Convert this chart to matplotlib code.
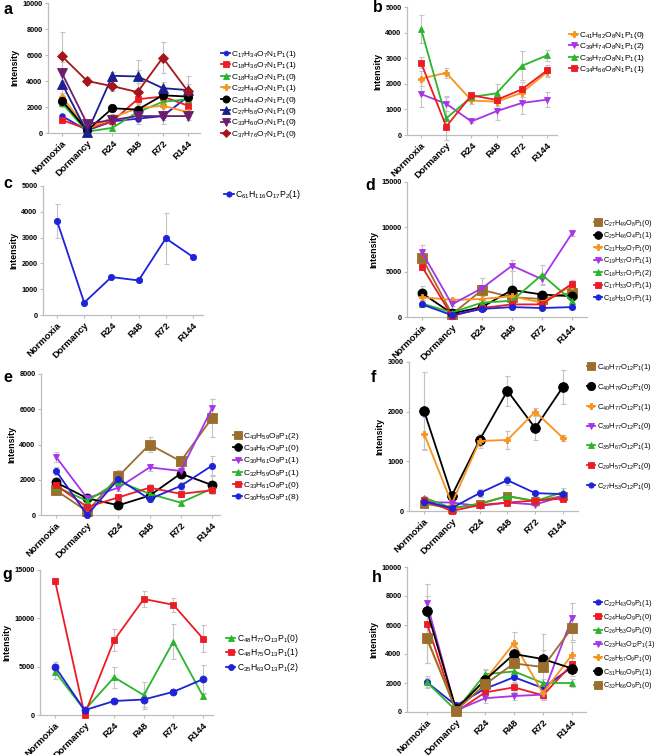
import matplotlib
matplotlib.use("Agg")
import matplotlib.pyplot as plt
import numpy as np

plt.rcParams['font.family'] = ['Liberation Sans', 'DejaVu Sans']
plt.rcParams['mathtext.fontset'] = 'custom'
plt.rcParams['mathtext.rm'] = 'Liberation Sans'
plt.rcParams['mathtext.it'] = 'Liberation Sans:italic'
plt.rcParams['mathtext.bf'] = 'Liberation Sans:bold'
plt.rcParams['mathtext.default'] = 'regular'

categories = ["Normoxia", "Dormancy", "R24", "R48", "R72", "R144"]

# ---------------- panel a ----------------
a_labels = [r"C$_{17}$H$_{34}$O$_7$N$_1$P$_1$(1)", r"C$_{18}$H$_{36}$O$_7$N$_1$P$_1$(1)",
            r"C$_{18}$H$_{38}$O$_7$N$_1$P$_1$(0)", r"C$_{22}$H$_{44}$O$_7$N$_1$P$_1$(1)",
            r"C$_{21}$H$_{44}$O$_7$N$_1$P$_1$(0)", r"C$_{27}$H$_{56}$O$_7$N$_1$P$_1$(0)",
            r"C$_{33}$H$_{60}$O$_7$N$_1$P$_1$(0)", r"C$_{37}$H$_{76}$O$_7$N$_1$P$_1$(0)"]
a_values = [[1300, 200, 900, 1100, 1300, 2800],
            [1000, 300, 900, 2600, 2800, 2100],
            [2300, 100, 400, 1600, 2400, 2600],
            [2800, 300, 1200, 1900, 2100, 1600],
            [2500, 200, 1900, 1800, 2900, 2800],
            [3800, 50, 4400, 4350, 3450, 3300],
            [4600, 700, 1000, 1300, 1300, 1300],
            [5900, 4000, 3600, 3150, 5800, 3200]]
a_errors = [[200, 100, 200, 200, 300, 300],
            [200, 100, 200, 300, 400, 300],
            [300, 100, 200, 300, 400, 300],
            [300, 100, 300, 300, 400, 300],
            [400, 100, 200, 300, 500, 400],
            [700, 100, 300, 500, 500, 500],
            [900, 200, 300, 300, 600, 300],
            [1900, 300, 400, 2450, 1200, 1200]]

# ---------------- panel b ----------------
b_labels = [r"C$_{41}$H$_{82}$O$_8$N$_1$P$_1$(0)", r"C$_{39}$H$_{74}$O$_8$N$_1$P$_1$(2)",
            r"C$_{36}$H$_{70}$O$_8$N$_1$P$_1$(1)", r"C$_{34}$H$_{66}$O$_8$N$_1$P$_1$(1)"]
b_values = [[2200, 2430, 1350, 1300, 1650, 2450],
            [1600, 1220, 530, 930, 1250, 1380],
            [4150, 650, 1480, 1630, 2700, 3110],
            [2830, 330, 1550, 1370, 1780, 2520]]
b_errors = [[300, 200, 150, 150, 150, 200],
            [520, 300, 80, 330, 430, 300],
            [550, 850, 100, 350, 570, 220],
            [200, 100, 100, 100, 300, 200]]

# ---------------- panel c ----------------
c_labels = [r"C$_{61}$H$_{116}$O$_{17}$P$_2$(1)"]
c_values = [[3650, 480, 1470, 1340, 2970, 2250]]
c_errors = [[650, 50, 50, 50, 975, 50]]

# ---------------- panel d ----------------
d_labels = [r"C$_{27}$H$_{49}$O$_8$P$_1$(0)", r"C$_{25}$H$_{46}$O$_4$P$_1$(1)",
            r"C$_{21}$H$_{39}$O$_7$P$_1$(0)", r"C$_{19}$H$_{37}$O$_7$P$_1$(1)",
            r"C$_{18}$H$_{37}$O$_7$P$_1$(2)", r"C$_{17}$H$_{33}$O$_7$P$_1$(1)",
            r"C$_{16}$H$_{31}$O$_7$P$_1$(1)"]
d_values = [[6600, 300, 3000, 2200, 2000, 2700],
            [2650, 400, 1100, 3000, 2500, 2300],
            [2200, 1900, 2000, 2300, 1600, 3500],
            [7200, 1400, 3200, 5700, 4200, 9300],
            [1500, 500, 1600, 1800, 4700, 1800],
            [5600, 100, 1000, 1400, 1400, 3700],
            [1400, 200, 900, 1100, 1000, 1100]]
d_errors = [[700, 100, 1300, 400, 500, 500],
            [800, 100, 300, 2100, 400, 300],
            [300, 200, 300, 300, 300, 300],
            [850, 200, 300, 600, 500, 300],
            [300, 100, 300, 300, 1100, 300],
            [400, 100, 200, 200, 200, 400],
            [200, 50, 100, 100, 100, 100]]

# ---------------- panel e ----------------
e_labels = [r"C$_{43}$H$_{59}$O$_8$P$_1$(2)", r"C$_{34}$H$_{67}$O$_8$P$_1$(0)",
            r"C$_{30}$H$_{61}$O$_8$P$_1$(1)", r"C$_{32}$H$_{59}$O$_8$P$_1$(1)",
            r"C$_{33}$H$_{61}$O$_8$P$_1$(0)", r"C$_{30}$H$_{55}$O$_8$P$_1$(8)"]
e_values = [[1400, 200, 2200, 4000, 3050, 5500],
            [1850, 950, 550, 1100, 2350, 1700],
            [3300, 950, 1550, 2700, 2500, 6050],
            [1600, 800, 1900, 1200, 700, 1500],
            [1700, 450, 1000, 1550, 1200, 1400],
            [2500, 0, 2050, 900, 1650, 2800]]
e_errors = [[200, 100, 350, 450, 250, 1100],
            [200, 100, 100, 200, 250, 500],
            [300, 100, 200, 200, 200, 550],
            [200, 100, 200, 200, 150, 150],
            [200, 100, 150, 200, 200, 150],
            [250, 50, 200, 150, 200, 550]]

# ---------------- panel f ----------------
f_labels = [r"C$_{40}$H$_{77}$O$_{12}$P$_1$(1)", r"C$_{40}$H$_{79}$O$_{12}$P$_1$(0)",
            r"C$_{40}$H$_{77}$O$_{12}$P$_1$(1)", r"C$_{39}$H$_{77}$O$_{12}$P$_1$(0)",
            r"C$_{35}$H$_{67}$O$_{12}$P$_1$(1)", r"C$_{29}$H$_{57}$O$_{12}$P$_1$(0)",
            r"C$_{27}$H$_{53}$O$_{12}$P$_1$(0)"]
f_values = [[150, 50, 150, 300, 200, 300],
            [2020, 310, 1430, 2420, 1670, 2500],
            [1560, 150, 1410, 1430, 2000, 1470],
            [180, 170, 100, 170, 130, 300],
            [270, 60, 140, 300, 200, 380],
            [230, 0, 120, 170, 210, 250],
            [190, 60, 360, 620, 360, 340]]
f_errors = [[50, 20, 50, 50, 40, 80],
            [780, 80, 130, 300, 250, 340],
            [330, 50, 150, 190, 70, 70],
            [30, 20, 30, 30, 30, 40],
            [40, 20, 40, 60, 40, 80],
            [40, 20, 30, 40, 40, 50],
            [40, 20, 80, 90, 50, 50]]

# ---------------- panel g ----------------
g_labels = [r"C$_{48}$H$_{77}$O$_{13}$P$_1$(0)", r"C$_{48}$H$_{75}$O$_{13}$P$_1$(1)",
            r"C$_{35}$H$_{63}$O$_{13}$P$_1$(2)"]
g_values = [[4500, 500, 3900, 2050, 7600, 1950],
            [13900, 50, 7750, 12000, 11400, 7900],
            [5000, 500, 1450, 1600, 2400, 3700]]
g_errors = [[800, 100, 1100, 1400, 1800, 300],
            [300, 100, 1100, 800, 700, 1400],
            [500, 100, 200, 800, 200, 1500]]

# ---------------- panel h ----------------
h_labels = [r"C$_{22}$H$_{43}$O$_9$P$_1$(1)", r"C$_{24}$H$_{49}$O$_9$P$_1$(0)",
            r"C$_{26}$H$_{53}$O$_9$P$_1$(0)", r"C$_{23}$H$_{43}$O$_{12}$P$_1$(1)",
            r"C$_{28}$H$_{57}$O$_9$P$_1$(0)", r"C$_{31}$H$_{60}$O$_9$P$_1$(1)",
            r"C$_{32}$H$_{66}$O$_9$P$_1$(0)"]
h_values = [[2050, 450, 1600, 2400, 1650, 3100],
            [6100, 0, 1350, 1700, 1150, 3300],
            [2050, 100, 2600, 2800, 2000, 2000],
            [7500, 100, 950, 1100, 1200, 6500],
            [5000, 200, 2200, 4750, 1300, 3950],
            [7000, 200, 2200, 4000, 3650, 3000],
            [5100, 100, 1900, 3350, 3100, 5800]]
h_errors = [[400, 100, 200, 300, 300, 300],
            [700, 100, 300, 300, 300, 400],
            [300, 100, 300, 300, 300, 300],
            [1350, 100, 300, 300, 300, 1050],
            [1600, 100, 400, 750, 300, 900],
            [1000, 100, 800, 500, 600, 500],
            [1700, 100, 500, 600, 2300, 800]]

# ---------------- styles ----------------
BLUE = "#1e22d8"; RED = "#ec1c24"; GREEN = "#2bb52b"; ORANGE = "#f7931e"
BLACK = "#000000"; NAVY = "#1b1f8f"; DPURPLE = "#6c1d6e"; DRED = "#a3171b"
VIOLET = "#a634e8"; BROWN = "#9a6e2c"

a_style = [(BLUE, 'o', 4), (RED, 's', 4.5), (GREEN, '^', 4.5), (ORANGE, 'P', 4.5),
           (BLACK, 'o', 6), (NAVY, '^', 6.5), (DPURPLE, 'v', 6.5), (DRED, 'D', 5)]
b_style = [(ORANGE, 'P', 4.5), (VIOLET, 'v', 4.5), (GREEN, '^', 4.5), (RED, 's', 5)]
c_style = [(BLUE, 'o', 4.5)]
d_style = [(BROWN, 's', 6.5), (BLACK, 'o', 6.5), (ORANGE, 'P', 4.5), (VIOLET, 'v', 4.5),
           (GREEN, '^', 4.5), (RED, 's', 4.5), (BLUE, 'o', 4.5)]
e_style = [(BROWN, 's', 7), (BLACK, 'o', 6.5), (VIOLET, 'v', 4.5), (GREEN, '^', 4.5),
           (RED, 's', 4.5), (BLUE, 'o', 4.5)]
f_style = [(BROWN, 's', 6), (BLACK, 'o', 7), (ORANGE, 'P', 4.5), (VIOLET, 'v', 4.5),
           (GREEN, '^', 4.5), (RED, 's', 4.5), (BLUE, 'o', 4.5)]
g_style = [(GREEN, '^', 4.5), (RED, 's', 5), (BLUE, 'o', 5)]
h_style = [(BLUE, 'o', 4.5), (RED, 's', 4.5), (GREEN, '^', 4.5), (VIOLET, 'v', 4.5),
           (ORANGE, 'P', 4.5), (BLACK, 'o', 7), (BROWN, 's', 7)]

W, H = 657, 755
fig = plt.figure(figsize=(W / 100, H / 100), dpi=100)
fig.patch.set_facecolor("white")
AXCOL = "#bdbdbd"
ERRCOL = "#c4c4c4"


def panel(letter, letter_xy, box, ymax, ystep, labels, values, errors, styles,
          leg_xy, leg_spacing, leg_fs=6.0):
    x0, x1, xN, xR, yt, yb = box
    unit = (xR - xN) / 5.0
    xmin = -(xN - x0) / unit
    xmax = 5 + (x1 - xR) / unit
    ax = fig.add_axes([x0 / W, 1 - yb / H, (x1 - x0) / W, (yb - yt) / H])
    xs = np.arange(len(categories))
    for lab, v, e, (col, mk, ms) in zip(labels, values, errors, styles):
        ax.errorbar(xs, v, yerr=e, fmt='none', ecolor=ERRCOL, elinewidth=0.8,
                    capsize=1.8, capthick=0.8, zorder=2, clip_on=False)
    for lab, v, e, (col, mk, ms) in zip(labels, values, errors, styles):
        ax.plot(xs, v, color=col, marker=mk, markersize=ms, linewidth=1.3,
                markeredgewidth=0.6, markeredgecolor=col, label=lab, zorder=3,
                clip_on=False)
    ax.set_xlim(xmin, xmax)
    ax.set_ylim(0, ymax)
    ax.set_yticks(np.arange(0, ymax + 1, ystep))
    ax.set_xticks(xs)
    ax.set_xticklabels(categories, rotation=45, ha='right', rotation_mode='anchor',
                       fontsize=6.8, fontweight='bold')
    for t in ax.get_yticklabels():
        t.set_fontsize(5.2)
        t.set_fontweight('bold')
    ax.spines['top'].set_visible(False)
    ax.spines['right'].set_visible(False)
    for s in ('left', 'bottom'):
        ax.spines[s].set_color(AXCOL)
        ax.spines[s].set_linewidth(0.9)
    ax.tick_params(axis='both', colors=AXCOL, length=2.5, width=0.8, pad=1.5,
                   labelcolor='black')
    ax.set_ylabel("Intensity", fontsize=6.4, fontweight='bold', labelpad=2)
    ax.patch.set_alpha(0)
    fig.text(letter_xy[0] / W, 1 - letter_xy[1] / H, letter, fontsize=11.5,
             fontweight='bold', ha='left', va='center')
    ax.legend(loc='upper left', bbox_to_anchor=(leg_xy[0] / W, 1 - leg_xy[1] / H),
              bbox_transform=fig.transFigure, frameon=False, fontsize=leg_fs,
              handlelength=1.1, handletextpad=0.15, labelspacing=leg_spacing,
              borderpad=0, borderaxespad=0, markerscale=0.85)
    return ax


panel("a", (3, 9), (48, 200, 62, 188, 3, 133), 10000, 2000,
      a_labels, a_values, a_errors, a_style, (221, 49), 0.05, 6.0)
panel("b", (373, 8), (407, 557, 421, 547, 7, 135), 5000, 1000,
      b_labels, b_values, b_errors, b_style, (569, 30), 0.05, 6.0)
panel("c", (3, 184), (43, 203, 57, 193, 186, 315), 5000, 1000,
      c_labels, c_values, c_errors, c_style, (224, 188), 0.1, 6.3)
panel("d", (365, 185), (407, 587, 422, 572, 182, 317), 15000, 5000,
      d_labels, d_values, d_errors, d_style, (594, 218), 0.2, 5.2)
panel("e", (3, 377), (41, 220, 56, 212, 374, 515), 8000, 2000,
      e_labels, e_values, e_errors, e_style, (233, 431), 0.15, 6.0)
panel("f", (371, 378), (409, 578, 424, 563, 362, 511), 3000, 1000,
      f_labels, f_values, f_errors, f_style, (587, 362), 1.15, 5.5)
panel("g", (2, 574), (40, 213, 55, 203, 570, 715), 15000, 5000,
      g_labels, g_values, g_errors, g_style, (226, 632), 0.15, 6.2)
panel("h", (372, 578), (407, 586, 427, 572, 567, 712), 10000, 2000,
      h_labels, h_values, h_errors, h_style, (594, 598), 0.38, 5.2)

fig.savefig("out.png", dpi=100, facecolor="white")
